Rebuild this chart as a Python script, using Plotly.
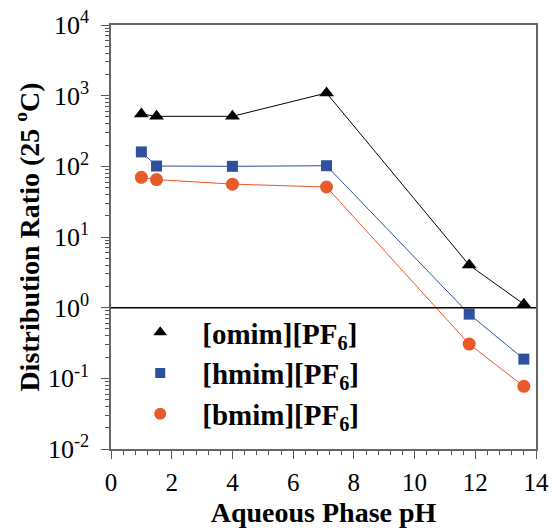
import plotly.graph_objects as go

ph = [1.0, 1.5, 4.0, 7.1, 11.8, 13.6]
omim = [550, 510, 510, 1090, 4.0, 1.12]
hmim = [160, 101, 100, 102, 0.81, 0.187]
bmim = [70, 65, 56, 51, 0.305, 0.077]

names = ["[omim][PF<sub>6</sub>]", "[hmim][PF<sub>6</sub>]", "[bmim][PF<sub>6</sub>]"]
colors = ["#000000", "#2f4f9f", "#e85a2a"]
symbols = ["triangle-up", "square", "circle"]
msizes = [13, 11, 13]
series = [omim, hmim, bmim]

ytickvals = [1e-2, 1e-1, 1, 10, 100, 1000, 10000]
yticktext = ["10<sup>-2</sup>", "10<sup>-1</sup>", "10<sup>0</sup>", "10<sup>1</sup>",
             "10<sup>2</sup>", "10<sup>3</sup>", "10<sup>4</sup>"]
xtickvals = [0, 2, 4, 6, 8, 10, 12, 14]
ref_line = [1, 1]
ref_x = [0, 14]

fig = go.Figure()
serif = "Liberation Serif, Times New Roman, serif"

for ys, c, s, ms in zip(series, colors, symbols, msizes):
    fig.add_trace(go.Scatter(x=ph, y=ys, mode="lines+markers",
                             line=dict(color=c, width=1),
                             marker=dict(color=c, symbol=s, size=ms),
                             showlegend=False))

fig.add_trace(go.Scatter(x=ref_x, y=ref_line, mode="lines",
                         line=dict(color="black", width=1.5), showlegend=False))

for n, c, s, ms in zip(names, colors, symbols, msizes):
    fig.add_trace(go.Scatter(x=[None], y=[None], mode="markers", name="<b>" + n + "</b>",
                             marker=dict(color=c, symbol=s, size=ms - 1),
                             legendgroup=n))

fig.update_layout(
    width=552, height=528,
    margin=dict(l=111, r=16, t=25, b=79),
    paper_bgcolor="white", plot_bgcolor="white",
    font=dict(family=serif, size=25, color="black"),
    showlegend=True,
    legend=dict(x=0.017, y=0.335, xanchor="left", yanchor="top",
                bgcolor="rgba(0,0,0,0)", font=dict(size=29, family=serif),
                tracegroupgap=0, itemwidth=74),
    xaxis=dict(range=[0, 14], tickvals=xtickvals, ticks="outside", ticklen=8,
               tickcolor="#555", showgrid=False, zeroline=False, automargin=False,
               ticklabelstandoff=2, ticklabeloverflow="allow",
               showline=True, linecolor="#666", linewidth=1.5, mirror=True,
               minor=dict(ticks="outside", ticklen=4, dtick=0.4, tickcolor="#555"),
               tickfont=dict(size=25, family=serif),
               title=dict(text="<b>Aqueous Phase pH</b>", font=dict(size=28, family=serif), standoff=21)),
    yaxis=dict(type="log", range=[-2, 4], tickvals=ytickvals, ticktext=yticktext,
               ticks="outside", ticklen=8, tickcolor="#555", showgrid=False, zeroline=False,
               automargin=False, ticklabelstandoff=7, ticklabeloverflow="allow",
               showline=True, linecolor="#666", linewidth=1.5, mirror=True,
               minor=dict(ticks="outside", ticklen=4, dtick="D1", tickcolor="#555", showgrid=False),
               tickfont=dict(size=26, family=serif),
               title=dict(text="<b>Distribution Ratio (25 <sup>o</sup>C)</b>", font=dict(size=28, family=serif), standoff=0)),
)

fig.write_html("out.html", config={"displayModeBar": False},
               post_script="document.body.style.margin='0';document.body.style.overflow='hidden';")
